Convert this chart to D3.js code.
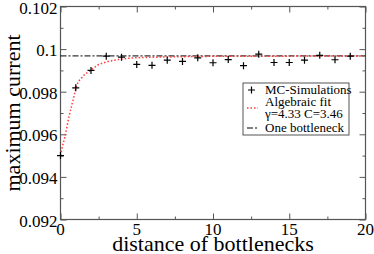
<!DOCTYPE html>
<html>
<head>
<meta charset="utf-8">
<script src="https://cdn.jsdelivr.net/npm/d3@7"></script>
<style>
  body { margin: 0; background: #fff; }
</style>
</head>
<body>
<div class="chart"></div>
<script>
// MC simulation points
let simX = [0, 1, 2, 3, 4, 5, 6, 7, 8, 9, 10, 11, 12, 13, 14, 15, 16, 17, 18, 19]
let simY = [0.09500, 0.09818, 0.09900, 0.09967, 0.09962, 0.09928, 0.09924, 0.09948, 0.09942, 0.09959,
            0.09936, 0.09951, 0.09922, 0.09976, 0.09937, 0.09937, 0.09948, 0.09971, 0.09950, 0.09967]

// algebraic fit curve
let fitX = [0, 0.1, 0.28, 0.55, 0.87, 1.03, 1.42, 1.97, 2.4, 2.95, 3.8, 4.9, 7, 10, 15, 20]
let fitY = [0.09500, 0.09535, 0.09586, 0.09680, 0.09774, 0.09821, 0.09868, 0.09900, 0.09923, 0.09938,
            0.09951, 0.09959, 0.09963, 0.09966, 0.09967, 0.09968]

// one bottleneck level
let oneBottleneck = 0.09968

let xTicks = [0, 5, 10, 15, 20]
let xMinor = [2.5, 7.5, 12.5, 17.5]
let yTicks = [0.092, 0.094, 0.096, 0.098, 0.1, 0.102]
let yMinor = [0.093, 0.095, 0.097, 0.099, 0.101]
let yLabels = ["0.092", "0.094", "0.096", "0.098", "0.1", "0.102"]

let legendLabels = ["MC-Simulations", "Algebraic fit", "\u03b3=4.33 C=3.46", "One bottleneck"]

let serif = "Liberation Serif"

let outerWidth = 374
let outerHeight = 254
let margin = {top: 6.5, bottom: 34.5, left: 60.5, right: 8.5}
let width = outerWidth - margin.left - margin.right
let height = outerHeight - margin.top - margin.bottom

let svg = d3.select(".chart")
    .append("svg")
    .attr("width", outerWidth)
    .attr("height", outerHeight)
    .append("g")
    .attr("transform", `translate(${margin.left}, ${margin.top})`)

let xScale = d3.scaleLinear().domain([0, 20]).range([0, width])
let yScale = d3.scaleLinear().domain([0.092, 0.102]).range([height, 0])

let axisColor = "#555"

// ticks on all four sides, pointing inward
function ticks(axisFn, vals, size, tr) {
    let g = svg.append("g")
        .attr("transform", tr)
        .call(axisFn.tickValues(vals).tickSize(size).tickFormat(""))
    g.select(".domain").remove()
    g.selectAll("line").attr("stroke", axisColor).attr("stroke-width", 1)
}
ticks(d3.axisTop(xScale), xTicks, 6, `translate(0, ${height})`)
ticks(d3.axisTop(xScale), xMinor, 3, `translate(0, ${height})`)
ticks(d3.axisBottom(xScale), xTicks, 6, `translate(0, 0)`)
ticks(d3.axisBottom(xScale), xMinor, 3, `translate(0, 0)`)
ticks(d3.axisRight(yScale), yTicks, 6, `translate(0, 0)`)
ticks(d3.axisRight(yScale), yMinor, 3, `translate(0, 0)`)
ticks(d3.axisLeft(yScale), yTicks, 6, `translate(${width}, 0)`)
ticks(d3.axisLeft(yScale), yMinor, 3, `translate(${width}, 0)`)

svg.append("rect")
    .attr("width", width)
    .attr("height", height)
    .attr("fill", "none")
    .attr("stroke", axisColor)
    .attr("stroke-width", 1.2)

// tick labels
svg.append("g").selectAll("text")
    .data(xTicks)
    .enter()
    .append("text")
    .attr("x", d => xScale(d))
    .attr("y", height + 15.5)
    .attr("text-anchor", "middle")
    .attr("font-family", serif)
    .attr("font-size", 17)
    .text(d => d)

svg.append("g").selectAll("text")
    .data(yTicks)
    .enter()
    .append("text")
    .attr("x", -3)
    .attr("y", d => yScale(d) + 7)
    .attr("text-anchor", "end")
    .attr("font-family", serif)
    .attr("font-size", 17)
    .text((d, i) => yLabels[i])

// axis titles
svg.append("text")
    .attr("x", width / 2)
    .attr("y", height + 31)
    .attr("text-anchor", "middle")
    .attr("font-family", serif)
    .attr("font-size", 22)
    .text("distance of bottlenecks")

svg.append("text")
    .attr("transform", `translate(${20 - margin.left}, ${height / 2}) rotate(-90)`)
    .attr("text-anchor", "middle")
    .attr("font-family", serif)
    .attr("font-size", 22)
    .text("maximum current")

// one bottleneck line
svg.append("line")
    .attr("x1", 0)
    .attr("x2", width)
    .attr("y1", yScale(oneBottleneck))
    .attr("y2", yScale(oneBottleneck))
    .attr("stroke", "#000")
    .attr("stroke-width", 1)
    .attr("stroke-dasharray", "6,2,2,2")

// fit curve
let fitLine = d3.line()
    .x((d, i) => xScale(fitX[i]))
    .y(d => yScale(d))
    .curve(d3.curveMonotoneX)

svg.append("path")
    .attr("d", fitLine(fitY))
    .attr("fill", "none")
    .attr("stroke", "#ff3b3b")
    .attr("stroke-width", 1.5)
    .attr("stroke-dasharray", "1.5,2")

// plus markers
svg.append("g").selectAll("path")
    .data(simY)
    .enter()
    .append("path")
    .attr("transform", (d, i) => `translate(${xScale(simX[i])}, ${yScale(d)})`)
    .attr("d", "M-3.5,0H3.5M0,-3.5V3.5")
    .attr("stroke", "#000")
    .attr("stroke-width", 1.2)

// legend
let lg = svg.append("g")
    .attr("transform", `translate(${243 - margin.left}, ${83 - margin.top})`)

lg.append("rect")
    .attr("width", 106)
    .attr("height", 52)
    .attr("fill", "#fff")
    .attr("stroke", axisColor)
    .attr("stroke-width", 1)

lg.append("path")
    .attr("d", "M5,7H12M8.5,3.5V10.5")
    .attr("stroke", "#000")
    .attr("stroke-width", 1.2)

lg.append("line")
    .attr("x1", 4).attr("x2", 15)
    .attr("y1", 25).attr("y2", 25)
    .attr("stroke", "#ff3b3b")
    .attr("stroke-width", 1.5)
    .attr("stroke-dasharray", "1.5,2")

lg.append("line")
    .attr("x1", 4).attr("x2", 15)
    .attr("y1", 45).attr("y2", 45)
    .attr("stroke", "#000")
    .attr("stroke-width", 1)
    .attr("stroke-dasharray", "6,2,2,2")

lg.selectAll("text.lbl")
    .data(legendLabels)
    .enter()
    .append("text")
    .attr("class", "lbl")
    .attr("x", 22)
    .attr("y", (d, i) => [11, 23, 35, 49][i])
    .attr("font-family", serif)
    .attr("font-size", 13)
    .text(d => d)
</script>
</body>
</html>
